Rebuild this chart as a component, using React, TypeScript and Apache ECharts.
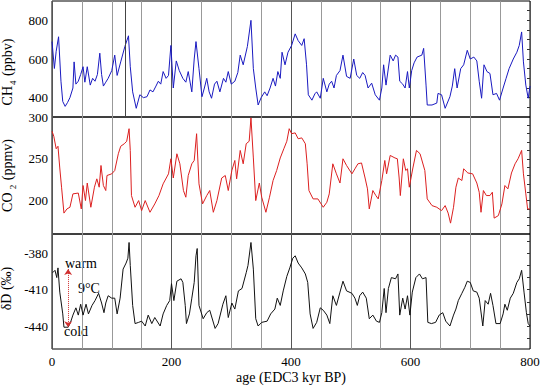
import React, { useEffect, useRef } from "react";
import * as echarts from "echarts";

const ch4Age = [0, 4, 7, 11, 15, 18, 22, 26, 30, 35, 37, 40, 44, 48, 52, 55, 59, 64, 68, 72, 76, 80, 83, 86, 90, 94, 100, 105, 109, 115, 122, 128, 131, 135, 141, 147, 153, 159, 164, 169, 174, 178, 182, 186, 191, 195, 199, 203, 208, 213, 219, 224, 228, 234, 238, 241, 246, 251, 255, 259, 263, 267, 272, 276, 281, 287, 291, 295, 300, 306, 311, 315, 320, 327, 333, 337, 341, 345, 350, 356, 360, 365, 370, 374, 378, 382, 385, 390, 395, 401, 407, 412, 418, 422, 426, 429, 435, 440, 443, 449, 454, 460, 464, 468, 472, 476, 482, 487, 493, 499, 505, 510, 515, 520, 524, 529, 535, 541, 548, 552, 555, 559, 566, 571, 575, 579, 582, 587, 591, 595, 598, 602, 606, 611, 619, 622, 626, 628, 636, 644, 646, 652, 658, 666, 670, 674, 678, 684, 689, 695, 700, 706, 711, 715, 719, 723, 728, 733, 738, 744, 749, 755, 760, 765, 772, 778, 782, 786, 789, 793, 797, 800];
const ch4Val = [690, 551, 640, 715, 485, 380, 355, 375, 400, 450, 585, 470, 485, 520, 560, 480, 560, 465, 500, 485, 520, 630, 520, 460, 480, 500, 540, 620, 515, 585, 665, 720, 560, 430, 345, 415, 400, 405, 440, 430, 460, 485, 470, 535, 500, 515, 670, 450, 590, 540, 500, 480, 535, 430, 600, 690, 550, 405, 450, 500, 430, 397, 470, 485, 430, 500, 480, 535, 470, 485, 530, 620, 570, 665, 800, 550, 450, 362, 400, 430, 410, 450, 500, 460, 535, 500, 635, 570, 635, 670, 730, 695, 670, 705, 570, 415, 387, 420, 430, 397, 500, 430, 470, 485, 450, 515, 540, 620, 510, 500, 600, 515, 500, 530, 515, 450, 475, 415, 387, 450, 570, 465, 620, 590, 620, 610, 485, 470, 450, 535, 450, 540, 580, 610, 620, 655, 465, 362, 362, 372, 422, 415, 345, 405, 460, 550, 450, 550, 570, 645, 600, 610, 590, 485, 397, 570, 535, 525, 415, 422, 387, 450, 500, 550, 600, 635, 670, 740, 585, 465, 397, 460];

const co2Age = [0, 3, 7, 10, 13, 16, 20, 25, 30, 35, 44, 49, 52, 56, 59, 65, 71, 75, 79, 82, 86, 90, 92, 100, 105, 111, 115, 121, 125, 129, 131, 133, 139, 145, 150, 156, 164, 172, 179, 186, 195, 199, 203, 209, 214, 220, 224, 228, 234, 238, 242, 246, 252, 259, 264, 270, 276, 284, 290, 295, 301, 306, 309, 315, 320, 325, 330, 333, 337, 341, 347, 351, 358, 364, 370, 376, 382, 388, 393, 397, 401, 407, 412, 418, 424, 427, 430, 437, 445, 454, 460, 464, 470, 476, 482, 487, 493, 502, 507, 512, 518, 524, 528, 531, 537, 542, 546, 552, 557, 560, 566, 574, 578, 581, 583, 588, 592, 595, 598, 604, 610, 616, 624, 628, 636, 644, 652, 658, 663, 667, 672, 676, 680, 686, 689, 696, 704, 711, 715, 718, 722, 727, 733, 737, 740, 747, 753, 758, 763, 769, 775, 780, 786, 789, 793, 796, 800];
const co2Val = [283, 277, 262, 265, 239, 216, 185, 190, 192, 208, 209, 190, 218, 200, 221, 192, 216, 226, 216, 242, 218, 212, 230, 232, 236, 256, 265, 268, 271, 286, 260, 206, 192, 200, 188, 200, 186, 196, 206, 220, 232, 250, 227, 256, 244, 212, 204, 230, 244, 248, 280, 220, 196, 206, 212, 186, 200, 227, 230, 212, 236, 248, 226, 260, 244, 268, 271, 299, 251, 200, 221, 204, 186, 204, 224, 236, 251, 262, 271, 286, 280, 281, 274, 275, 268, 244, 212, 202, 202, 192, 198, 208, 244, 232, 221, 250, 242, 232, 238, 244, 245, 227, 214, 190, 212, 206, 202, 224, 248, 232, 254, 251, 250, 227, 206, 250, 236, 238, 216, 239, 260, 256, 236, 202, 194, 192, 188, 194, 185, 173, 192, 216, 227, 224, 238, 233, 232, 221, 210, 186, 212, 206, 206, 210, 179, 182, 196, 218, 214, 233, 244, 250, 260, 232, 208, 190, 190];

const dDAge = [1, 5, 8, 10, 13, 18, 20, 27, 31, 35, 40, 44, 48, 52, 57, 61, 67, 72, 78, 83, 87, 90, 94, 100, 105, 109, 114, 119, 124, 127, 129, 131, 135, 139, 145, 150, 156, 161, 167, 172, 181, 186, 192, 197, 200, 204, 209, 216, 219, 223, 225, 230, 234, 238, 241, 243, 246, 253, 259, 264, 273, 278, 286, 291, 295, 301, 306, 312, 318, 325, 328, 333, 337, 341, 345, 351, 360, 366, 373, 377, 382, 387, 393, 398, 403, 407, 412, 418, 424, 428, 432, 437, 443, 449, 454, 460, 465, 470, 476, 482, 487, 493, 502, 507, 511, 515, 520, 526, 531, 537, 543, 548, 552, 556, 559, 563, 568, 575, 579, 582, 587, 591, 595, 599, 603, 609, 615, 620, 626, 629, 635, 642, 648, 654, 659, 666, 672, 676, 680, 686, 691, 695, 700, 705, 711, 715, 721, 725, 730, 734, 738, 743, 750, 755, 758, 762, 767, 772, 778, 782, 786, 790, 794, 797, 800];
const dDVal = [-396, -394, -400, -392, -412, -430, -441, -441, -437, -431, -425, -431, -422, -431, -422, -430, -423, -419, -413, -421, -429, -421, -415, -417, -417, -430, -417, -393, -388, -384, -371, -390, -423, -438, -437, -436, -440, -431, -438, -433, -440, -430, -423, -419, -405, -419, -403, -401, -404, -423, -438, -430, -417, -404, -382, -376, -423, -434, -429, -427, -442, -438, -422, -415, -433, -421, -426, -411, -409, -396, -390, -371, -393, -434, -440, -437, -436, -430, -426, -417, -423, -411, -399, -392, -384, -382, -388, -392, -397, -404, -430, -442, -437, -425, -427, -431, -438, -415, -423, -412, -403, -411, -413, -417, -423, -415, -412, -417, -434, -431, -436, -437, -429, -409, -429, -409, -400, -401, -397, -431, -417, -426, -415, -431, -412, -400, -397, -401, -400, -437, -438, -437, -431, -429, -436, -440, -431, -426, -419, -413, -408, -403, -404, -411, -412, -417, -440, -419, -422, -413, -423, -438, -438, -430, -422, -427, -417, -413, -404, -401, -394, -412, -429, -438, -440];

const xLabels = [0, 200, 400, 600, 800];
const ch4Labels = [400, 600, 800];
const co2Labels = [200, 250, 300];
const dDLabels = [-380, -410, -440];
const ch4MinorTicks = [350, 400, 450, 500, 550, 600, 650, 700, 750, 800, 850];
const co2MinorTicks = [170, 180, 190, 200, 210, 220, 230, 240, 250, 260, 270, 280, 290];
const dDMinorTicks = [-450, -440, -430, -420, -410, -400, -390, -380, -370];
const extraLineAge = [122];
const arrowAge = 27;
const arrowWarm = -393;
const arrowCold = -441;

const FONT = "Liberation Serif";

const zip = (a: number[], b: number[]) => a.map((x, i) => [x, b[i]]);

export default function App() {
  const ref = useRef<HTMLDivElement>(null);
  useEffect(() => {
    if (!ref.current) return;
    const chart = echarts.init(ref.current, null, { renderer: "svg" });
    const grids = [
      { left: 52, right: 10, top: 1, height: 116 },
      { left: 52, right: 10, top: 117, height: 117 },
      { left: 52, right: 10, top: 234, height: 115 },
    ].map((g) => ({
      ...g,
      show: true,
      borderColor: "#000",
      borderWidth: 1,
      backgroundColor: "transparent",
      containLabel: false,
      outerBoundsMode: "none",
    }));

    const ranges = [
      [300, 900],
      [160, 300],
      [-459, -364],
    ];
    const labels = [ch4Labels, co2Labels, dDLabels];
    const minors = [ch4MinorTicks, co2MinorTicks, dDMinorTicks];
    const names = [
      "{n|CH}{s|4}{n| (ppbv)}",
      "{n|CO}{s| 2}{n| (ppmv)}",
      "{n|δD (‰)}",
    ];
    const namePads = [
      [0, 26, 0, 0],
      [0, 0, 0, 0],
      [0, 0, 0, 6],
    ];
    const nameRich = {
      n: { fontFamily: FONT, fontSize: 14, color: "#000", lineHeight: 16, verticalAlign: "bottom" },
      s: { fontFamily: FONT, fontSize: 9, color: "#000", lineHeight: 12, verticalAlign: "bottom", padding: [0, 1, -3, 1] },
    };

    const xAxis = [0, 1, 2].map((i) => ({
      type: "value",
      gridIndex: i,
      min: 0,
      max: 800,
      interval: 50,
      axisLine: { show: false },
      axisTick: { show: false },
      axisLabel:
        i === 2
          ? { show: true, customValues: xLabels, color: "#000", fontFamily: FONT, fontSize: 13, margin: 6 }
          : { show: false },
      splitLine: { show: true, lineStyle: { color: ["#555", "#999", "#999", "#999"], width: 1 } },
      name: i === 2 ? "age (EDC3 kyr BP)" : "",
      nameLocation: "middle",
      nameGap: 21,
      nameTextStyle: { fontFamily: FONT, fontSize: 14, color: "#000" },
    }));

    const yLeft = [0, 1, 2].map((i) => ({
      type: "value",
      gridIndex: i,
      min: ranges[i][0],
      max: ranges[i][1],
      axisLine: { show: false },
      axisTick: { show: false },
      splitLine: { show: false },
      axisLabel: { customValues: labels[i], color: "#000", fontFamily: FONT, fontSize: 13, margin: 4 },
      name: names[i],
      nameLocation: "middle",
      nameRotate: 90,
      nameGap: 30,
      nameTextStyle: { rich: nameRich, padding: namePads[i] },
    }));
    const yRight = [0, 1, 2].map((i) => ({
      type: "value",
      gridIndex: i,
      position: "right",
      min: ranges[i][0],
      max: ranges[i][1],
      axisLine: { show: false },
      axisLabel: { show: false },
      splitLine: { show: false },
      axisTick: { show: true, inside: true, length: 3, customValues: minors[i], lineStyle: { color: "#333" } },
    }));

    const option = {
      animation: false,
      textStyle: { fontFamily: FONT },
      grid: grids,
      xAxis,
      yAxis: [...yLeft, ...yRight],
      series: [
        {
          type: "line",
          xAxisIndex: 0,
          yAxisIndex: 0,
          data: zip(ch4Age, ch4Val),
          symbol: "none",
          lineStyle: { color: "#1a1ac0", width: 1 },
          markLine: {
            silent: true,
            symbol: "none",
            label: { show: false },
            lineStyle: { color: "#444", type: "solid", width: 1 },
            data: extraLineAge.map((a) => ({ xAxis: a })),
          },
        },
        {
          type: "line",
          xAxisIndex: 1,
          yAxisIndex: 1,
          data: zip(co2Age, co2Val),
          symbol: "none",
          lineStyle: { color: "#dc2020", width: 1 },
        },
        {
          type: "line",
          xAxisIndex: 2,
          yAxisIndex: 2,
          data: zip(dDAge, dDVal),
          symbol: "none",
          lineStyle: { color: "#111", width: 1 },
          markLine: {
            silent: true,
            symbol: ["arrow", "arrow"],
            symbolSize: 6,
            label: { show: false },
            lineStyle: { color: "#d03030", type: "dotted", width: 1 },
            data: [[{ coord: [arrowAge, arrowWarm] }, { coord: [arrowAge, arrowCold] }]],
          },
        },
      ],
      graphic: [
        { type: "text", left: 65, top: 256, style: { text: "warm", font: `14px ${FONT}`, fill: "#000" } },
        { type: "text", left: 78, top: 281, style: { text: "9°C", font: `14px ${FONT}`, fill: "#000" } },
        { type: "text", left: 64, top: 324, style: { text: "cold", font: `14px ${FONT}`, fill: "#000" } },
      ],
    };
    chart.setOption(option as any);
    return () => chart.dispose();
  }, []);
  return <div ref={ref} style={{ position: "fixed", left: 0, top: 0, width: 540, height: 386, background: "#fff" }} />;
}
